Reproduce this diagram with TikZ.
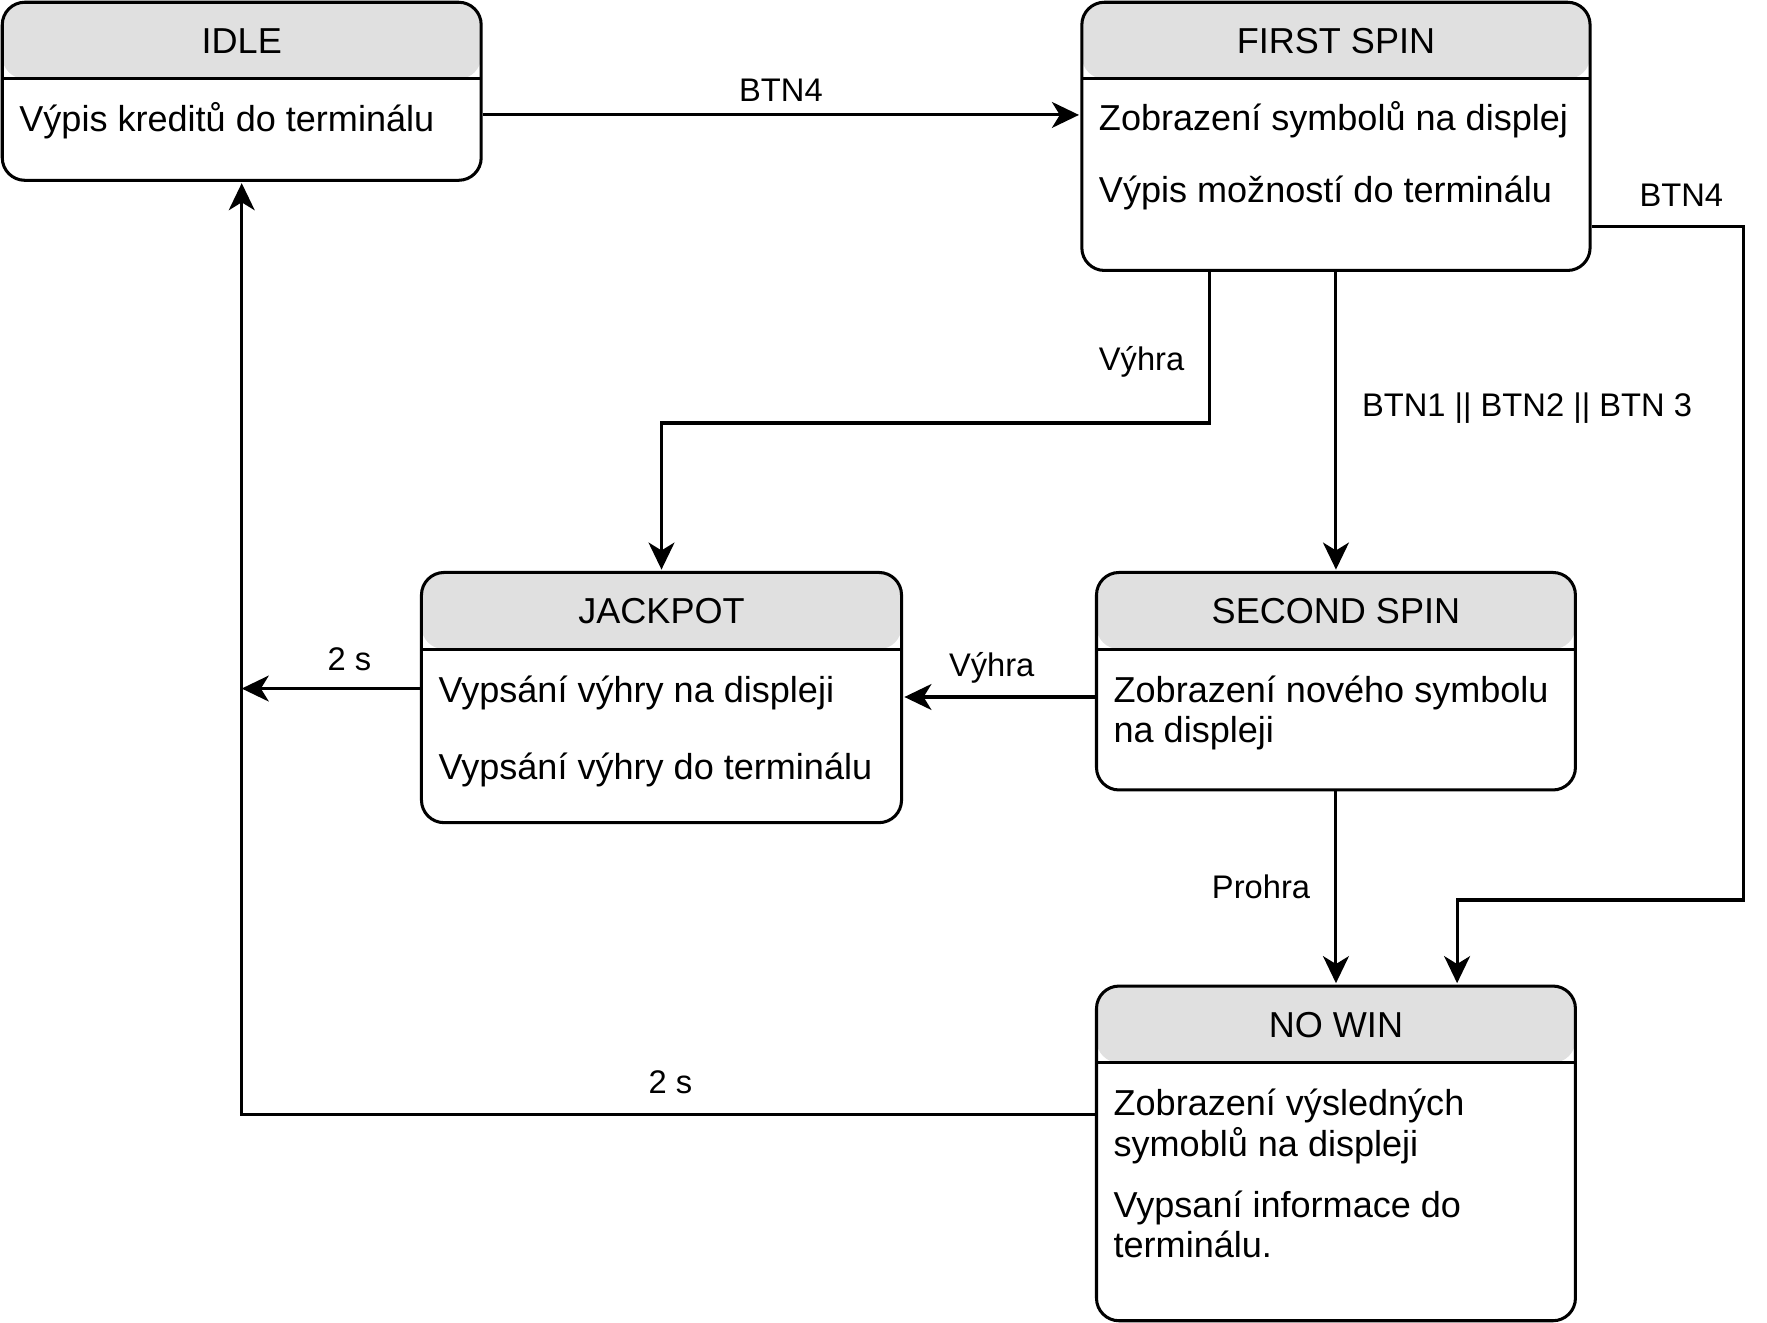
\documentclass[tikz,border=0pt]{standalone}
\usepackage{fontspec}
\setmainfont{Liberation Sans}
\usetikzlibrary{arrows.meta,calc}
\definecolor{hdrgray}{HTML}{E0E0E0}
\tikzset{
  statebox/.style={draw, line width=2.7pt, rounded corners=20pt, inner sep=0pt,
    path picture={
      \fill[hdrgray] (path picture bounding box.north west) rectangle ([yshift=-68pt]path picture bounding box.north east);
      \draw[line width=2.7pt] ([yshift=-68pt]path picture bounding box.north west) -- ([yshift=-68pt]path picture bounding box.north east);
    }},
  titletext/.style={anchor=base, inner sep=0pt, font=\fontsize{32}{37}\selectfont},
  bodytext/.style={anchor=base west, inner sep=0pt, font=\fontsize{32}{37}\selectfont},
  lbl/.style={anchor=base, inner sep=0pt, font=\fontsize{29}{34}\selectfont},
  conn/.style={line width=2.7pt, shorten >=1.2pt, -{Stealth[length=24pt, width=23pt, inset=7pt]}}
}
\begin{document}
\begin{tikzpicture}[x=1pt, y=-1pt]
\useasboundingbox (0,0) rectangle (1568,1174);

% state boxes
\node[statebox, minimum width=425pt, minimum height=158pt] (idle) at (214.5,81) {};
\node[statebox, minimum width=451pt, minimum height=238pt] (fs) at (1185.5,121) {};
\node[statebox, minimum width=426pt, minimum height=222pt] (jack) at (587,619) {};
\node[statebox, minimum width=425pt, minimum height=193pt] (ss) at (1185.5,604.5) {};
\node[statebox, minimum width=425pt, minimum height=297pt] (nw) at (1185.5,1023.5) {};

% titles
\node[titletext] (idle-h) at (214.5,47.5) {IDLE};
\node[titletext] (fs-h) at (1185.5,47.5) {FIRST SPIN};
\node[titletext] (jack-h) at (587,553.5) {JACKPOT};
\node[titletext] (ss-h) at (1185.5,553.5) {SECOND SPIN};
\node[titletext] (nw-h) at (1185.5,920.5) {NO WIN};

% bodies
\node[bodytext] (idle-t1) at (17,116.5) {Výpis kreditů do terminálu};
\node[bodytext] (fs-t1) at (975,116) {Zobrazení symbolů na displej};
\node[bodytext] (fs-t2) at (975,180) {Výpis možností do terminálu};
\node[bodytext] (jack-t1) at (389,623) {Vypsání výhry na displeji};
\node[bodytext] (jack-t2) at (389,692) {Vypsání výhry do terminálu};
\node[bodytext] (ss-t1) at (988,623) {Zobrazení nového symbolu};
\node[bodytext] (ss-t2) at (988,659) {na displeji};
\node[bodytext] (nw-t1) at (988,990) {Zobrazení výsledných};
\node[bodytext] (nw-t2) at (988,1026) {symoblů na displeji};
\node[bodytext] (nw-t3) at (988,1080) {Vypsaní informace do};
\node[bodytext] (nw-t4) at (988,1116) {terminálu.};

% dangling end
\coordinate (jdest) at (214.5,611);

% connectors
\draw[conn] ([yshift=-21pt]idle.east) -- ([yshift=-21pt]idle.east -| fs.west);
\draw[conn] ([xshift=-112.5pt]fs.south) -- ++(0,134) -| (jack.north);
\draw[conn] (fs.south) -- (ss.north);
\draw[conn] ([yshift=-80pt]fs.east) -- ++(135,0) |- ([xshift=107.5pt,yshift=75pt]nw.north) -- ([xshift=107.5pt]nw.north);
\draw[conn] ([yshift=-14pt]ss.west) -- ([yshift=-14pt]ss.west -| jack.east);
\draw[conn] (ss.south) -- (nw.north);
\draw[conn, shorten >=0pt] ([yshift=8pt]jack.west) -- (jdest);
\draw[conn] ([yshift=34.5pt]nw.west) -| (idle.south);

% labels
\node[lbl] (lb1) at (693,90) {BTN4};
\node[lbl] (lb2) at (1013,329) {Výhra};
\node[lbl] (lb3) at (1355,370) {BTN1 || BTN2 || BTN 3};
\node[lbl] (lb4) at (1492,183.5) {BTN4};
\node[lbl] (lb5) at (880,600.5) {Výhra};
\node[lbl] (lb6) at (1119,797) {Prohra};
\node[lbl] (lb7) at (310,595) {2 s};
\node[lbl] (lb8) at (595,970) {2 s};
\end{tikzpicture}
\end{document}
